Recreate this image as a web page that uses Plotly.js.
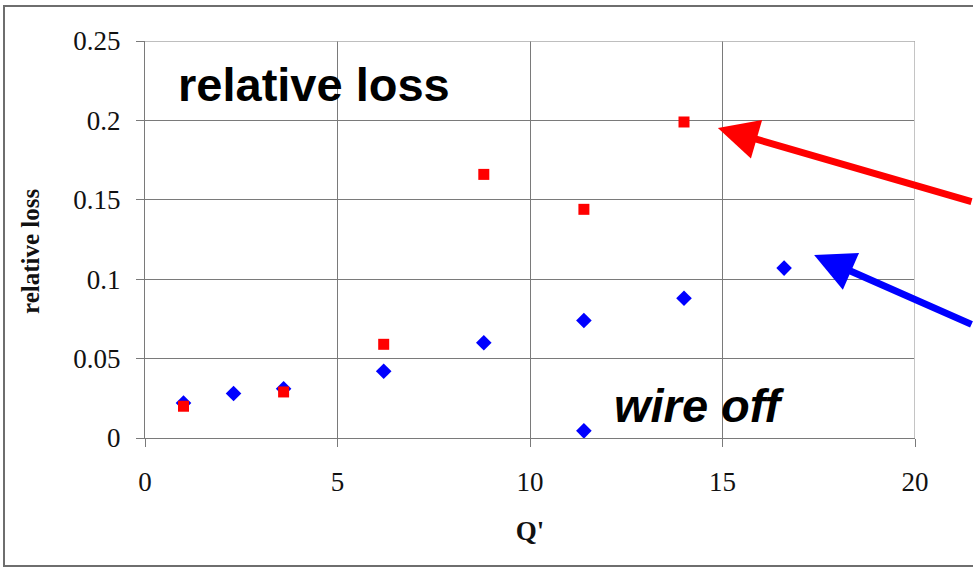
<!DOCTYPE html>
<html>
<head>
<meta charset="utf-8">
<script src="https://cdn.plot.ly/plotly-3.0.1.min.js"></script>
<style>
html,body{margin:0;padding:0;background:#fff;}
#frame{position:absolute;left:3px;top:5px;width:990px;height:558px;border-left:2px solid #6e6e6e;border-top:2px solid #6e6e6e;border-bottom:2px solid #6e6e6e;}
#chart{position:absolute;left:0;top:0;width:973px;height:568px;}
</style>
</head>
<body>
<div id="frame"></div>
<div id="chart"></div>
<script>
// Data
const blueQ    = [1.0, 2.3, 3.6, 6.2, 8.8, 11.4, 14.0, 16.6];
const blueLoss = [0.022, 0.028, 0.031, 0.042, 0.060, 0.074, 0.088, 0.107];
const wireOffQ    = [11.4];
const wireOffLoss = [0.0045];
const redQ    = [1.0, 3.6, 6.2, 8.8, 11.4, 14.0];
const redLoss = [0.020, 0.029, 0.059, 0.166, 0.144, 0.199];
const xTicks = [0, 5, 10, 15, 20];
const yTicks = [0, 0.05, 0.1, 0.15, 0.2, 0.25];
const yTickText = ['0', '0.05', '0.1', '0.15', '0.2', '0.25'];

const serif = 'Liberation Serif, Times New Roman, serif';
const sans = 'Liberation Sans, Arial, sans-serif';

const traces = [
  {x: blueQ.concat(wireOffQ), y: blueLoss.concat(wireOffLoss), type: 'scatter', mode: 'markers',
   marker: {symbol: 'diamond', size: 12, color: '#0000ff'}, name: 'wire', cliponaxis: false},
  {x: redQ, y: redLoss, type: 'scatter', mode: 'markers',
   marker: {symbol: 'square', size: 11, color: '#ff0000'}, name: 'no wire', cliponaxis: false}
];

const layout = {
  width: 973, height: 568,
  margin: {l: 145, r: 58, t: 41, b: 130},
  paper_bgcolor: 'rgba(0,0,0,0)',
  plot_bgcolor: '#ffffff',
  showlegend: false,
  xaxis: {
    range: [0, 20], tickvals: xTicks, ticktext: xTicks.map(String),
    showgrid: true, gridcolor: '#7a7a7a', gridwidth: 1,
    showline: true, linecolor: '#7a7a7a', linewidth: 1,
    ticks: 'outside', ticklen: 8, tickcolor: '#7a7a7a',
    ticklabelstandoff: 12,
    zeroline: false,
    tickfont: {family: serif, size: 27, color: '#111'},
    title: {text: "<b>Q'</b>", font: {family: serif, size: 27, color: '#111'}, standoff: 24}
  },
  yaxis: {
    range: [0, 0.25], tickvals: yTicks, ticktext: yTickText,
    showgrid: true, gridcolor: '#7a7a7a', gridwidth: 1,
    showline: true, linecolor: '#7a7a7a', linewidth: 1,
    ticks: 'outside', ticklen: 8, tickcolor: '#7a7a7a',
    ticklabelstandoff: 10,
    zeroline: false,
    tickfont: {family: serif, size: 27, color: '#111'}
  },
  shapes: [
    {type: 'line', xref: 'x', yref: 'y', x0: 20, x1: 20, y0: 0, y1: 0.25, line: {color: '#c4c4c4', width: 2}},
    {type: 'line', xref: 'x', yref: 'y', x0: 0, x1: 20, y0: 0.25, y1: 0.25, line: {color: '#a8a8a8', width: 1.5}}
  ],
  annotations: [
    {x: -0.1494, y: 0.471, xref: 'paper', yref: 'paper', text: '<b>relative loss</b>', showarrow: false,
     textangle: -90, xanchor: 'center', yanchor: 'middle',
     font: {family: serif, size: 25, color: '#111'}},
    {x: 4.38, y: 0.2225, xref: 'x', yref: 'y', text: '<b>relative loss</b>', showarrow: false,
     font: {family: sans, size: 47, color: '#000'}},
    {x: 14.4, y: 0.0205, xref: 'x', yref: 'y', text: '<b><i>wire off</i></b>', showarrow: false,
     font: {family: sans, size: 47, color: '#000'}},
    {x: 14.88, y: 0.1952, xref: 'x', yref: 'y', text: '', showarrow: true,
     axref: 'pixel', ayref: 'pixel', ax: 290, ay: 74,
     arrowhead: 2, arrowsize: 1.15, arrowwidth: 7, arrowcolor: '#ff0000', standoff: 0},
    {x: 17.38, y: 0.1152, xref: 'x', yref: 'y', text: '', showarrow: true,
     axref: 'pixel', ayref: 'pixel', ax: 190, ay: 70,
     arrowhead: 2, arrowsize: 1.15, arrowwidth: 7, arrowcolor: '#0000ff', standoff: 0}
  ]
};

Plotly.newPlot('chart', traces, layout, {displayModeBar: false, staticPlot: true});
</script>
</body>
</html>
